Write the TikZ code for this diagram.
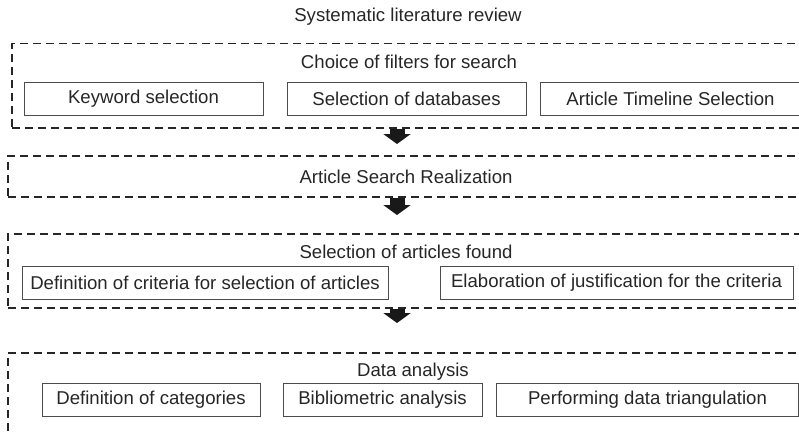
\documentclass[tikz,border=0pt]{standalone}
\usepackage{fontspec}
\setmainfont{Liberation Sans}
\usetikzlibrary{arrows.meta}

\begin{document}
\begin{tikzpicture}[x=1pt,y=-1pt,
		font=\fontsize{18.6}{22}\selectfont,
		group node/.style={draw=black!85,dash pattern=on 8pt off 5pt,line width=1.5pt,rectangle,anchor=north west,inner sep=0pt},
		task node/.style={draw=black!70,line width=1pt,rectangle,minimum height=33pt,inner sep=0pt,text=black!85},
		label node/.style={text=black!85,inner sep=0pt},
		step arrow/.style={line width=15pt,draw=black!90,-{Triangle[width=27pt,length=10pt]}}
		]
		
		\useasboundingbox (0,0) rectangle (799,433);
		\clip (0,0) rectangle (799,433);
		
		\def \ax {397};
		
		\node[label node] (title) at (408,17) {Systematic literature review};
		
		% stages
		\node[group node,minimum width=798pt,minimum height=84pt] (filters) at (11,43) {};
		\node[group node,minimum width=802pt,minimum height=41pt] (search) at (7,155) {};
		\node[group node,minimum width=802pt,minimum height=74pt] (select) at (7,233) {};
		\node[group node,minimum width=802pt,minimum height=120pt] (analysis) at (7,352) {};
		
		\node[label node] (filtersl) at (409,62) {Choice of filters for search};
		\node[label node] (searchl) at (406,177) {Article Search Realization};
		\node[label node] (selectl) at (406,252) {Selection of articles found};
		\node[label node] (analysisl) at (413,372) {Data analysis};
		
		% tasks
		\node[task node,minimum width=239pt] (keyword) at (143.5,99) {Keyword selection};
		\node[task node,minimum width=239pt] (databases) at (406.5,99) {Selection of databases};
		\node[task node,minimum width=261pt] (timeline) at (670.5,99) {Article Timeline Selection};
		
		\node[task node,minimum width=366pt] (criteria) at (205,282.5) {Definition of criteria for selection of articles};
		\node[task node,minimum width=353pt] (justify) at (616.5,282.5) {Elaboration of justification for the criteria};
		
		\node[task node,minimum width=218pt] (categories) at (151,400) {Definition of categories};
		\node[task node,minimum width=199pt] (biblio) at (382.5,400) {Bibliometric analysis};
		\node[task node,minimum width=302pt] (triang) at (647.5,400) {Performing data triangulation};
		
		\coordinate (ax) at (\ax,0);
		\foreach \a/\b/\s in {filters/search/11,search/select/18,select/analysis/29} {
			\draw[step arrow,shorten >=\s pt] (\a.south -| ax) -- (\b.north -| ax);
		}
\end{tikzpicture}
\end{document}
